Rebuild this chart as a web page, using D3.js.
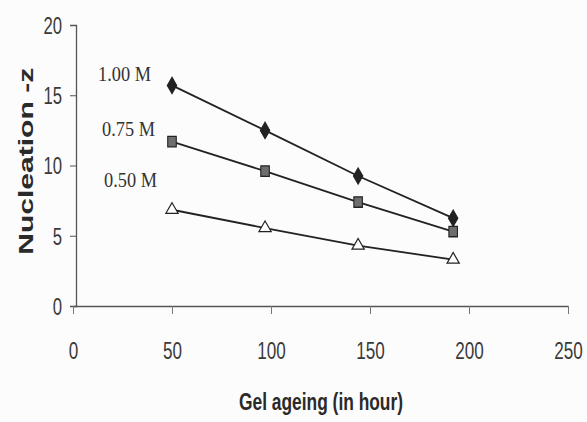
<!DOCTYPE html>
<html lang="en">
<head>
  <meta charset="UTF-8">
  <title>Nucleation vs gel ageing</title>
  <style>
    *{ margin:0; padding:0; box-sizing:border-box }
    html, body { width:100%; height:100%; background:#fcfcfc; overflow:hidden }
    svg { position:absolute; top:0; left:0 }
    .tick-lbl { font-family:"Liberation Sans",Arial,sans-serif; fill:#3a3a3a }
    .ax-title { font-family:"Liberation Sans",Arial,sans-serif; font-weight:bold; fill:#2a2a2a }
    .ser-lbl  { font-family:"Liberation Serif","Times New Roman",serif; font-size:21px; fill:#333 }
  </style>
  <script src="https://cdn.jsdelivr.net/npm/d3@7/dist/d3.min.js"></script>
</head>
<body>
  <svg id="chart"></svg>
  <script>
    const W = 587, H = 422;

    // data
    const hours = [50, 97, 144, 192];
    const m100 = [15.7, 12.5, 9.25, 6.25];
    const m075 = [11.7, 9.6, 7.4, 5.3];
    const m050 = [6.85, 5.55, 4.3, 3.3];
    const seriesNames = ["1.00 M", "0.75 M", "0.50 M"];
    const xTicks = [0, 50, 100, 150, 200, 250];
    const yTicks = [0, 5, 10, 15, 20];

    const svg = d3.select("#chart").attr("width", W).attr("height", H);

    const x = d3.scaleLinear().domain([0, 250]).range([73, 568]);
    const y = d3.scaleLinear().domain([0, 20]).range([306, 25]);

    // y axis
    const yAx = svg.append("g").attr("transform", `translate(${x(0) + 3},0)`)
      .call(d3.axisLeft(y).tickValues(yTicks).tickSize(6).tickPadding(8).tickFormat(d3.format("d")));
    yAx.select(".domain").attr("stroke", "#555").attr("stroke-width", 1.3);
    yAx.selectAll(".tick line").attr("stroke", "#555");
    yAx.selectAll(".tick text").attr("class", "tick-lbl").attr("font-family", null)
      .attr("font-size", 23).attr("dy", "0.36em")
      .attr("textLength", d => String(d).length * 9.3).attr("lengthAdjust", "spacingAndGlyphs");

    // x axis
    const xw = d => String(d).length * 9.5;
    const xAx = svg.append("g").attr("transform", `translate(0,${y(0)})`)
      .call(d3.axisBottom(x).tickValues(xTicks).tickSizeInner(8).tickSizeOuter(0).tickPadding(29).tickFormat(d3.format("d")));
    xAx.select(".domain").attr("stroke", "#555").attr("stroke-width", 1.3);
    xAx.selectAll(".tick line").attr("stroke", "#777");
    xAx.selectAll(".tick text").attr("class", "tick-lbl").attr("font-family", null)
      .attr("font-size", 23)
      .attr("textLength", xw).attr("lengthAdjust", "spacingAndGlyphs");
    // last label sits at the right edge: anchor it at its end
    xAx.selectAll(".tick text").filter(d => d === 250)
      .attr("text-anchor", "end").attr("x", d => xw(d) / 2);

    // axis titles
    svg.append("text").attr("class", "ax-title").attr("font-size", 21)
      .attr("transform", `translate(33,${y(10.3)}) rotate(-90)`)
      .attr("text-anchor", "middle")
      .attr("textLength", 187).attr("lengthAdjust", "spacingAndGlyphs")
      .text("Nucleation -z");
    svg.append("text").attr("class", "ax-title").attr("font-size", 24)
      .attr("x", 321).attr("y", 410)
      .attr("text-anchor", "middle")
      .attr("textLength", 164).attr("lengthAdjust", "spacingAndGlyphs")
      .text("Gel ageing (in hour)");

    const line = d3.line().x((d, i) => x(hours[i])).y(d => y(d));
    const all = [m100, m075, m050];
    const shapes = [d3.symbolDiamond, d3.symbolSquare, d3.symbolTriangle];
    const sizes = [75, 90, 65];
    const fills = ["#222", "#6e6e6e", "#fff"];

    all.forEach((vals, k) => {
      svg.append("path").datum(vals).attr("d", line)
        .attr("fill", "none").attr("stroke", "#222").attr("stroke-width", 1.8);
      svg.selectAll(null).data(vals).join("path")
        .attr("transform", (d, i) => `translate(${x(hours[i])},${y(d)})` + (k === 1 ? " scale(0.9,1.1)" : ""))
        .attr("d", d3.symbol().type(shapes[k]).size(sizes[k]))
        .attr("fill", fills[k]).attr("stroke", "#222").attr("stroke-width", 1.2);
    });

    // series labels
    const lblPos = [[98, 81], [102, 136], [104, 187]];
    seriesNames.forEach((s, k) => {
      svg.append("text").attr("class", "ser-lbl")
        .attr("x", lblPos[k][0]).attr("y", lblPos[k][1])
        .attr("textLength", 53).attr("lengthAdjust", "spacingAndGlyphs")
        .text(s);
    });
  </script>
</body>
</html>
